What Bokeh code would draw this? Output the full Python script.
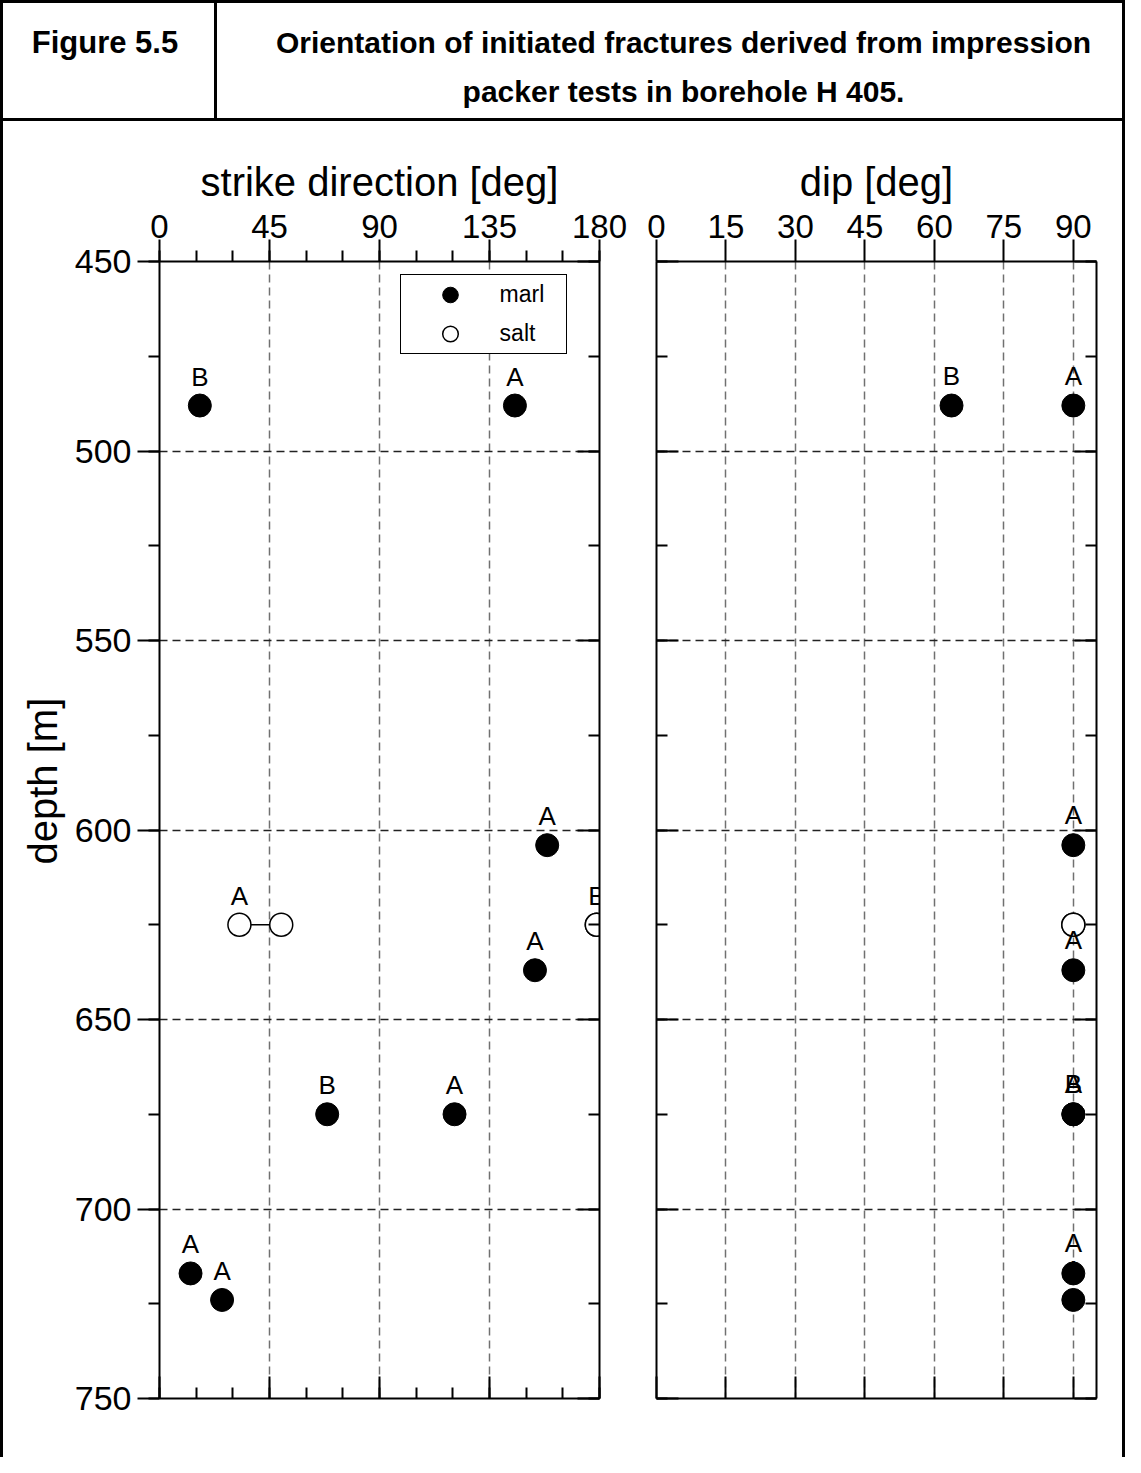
from bokeh.plotting import figure
from bokeh.models import (Range1d, LinearAxis, FixedTicker, Label, Legend,
                          LegendItem, Spacer, Title, LabelSet, ColumnDataSource)
from bokeh.layouts import row, column
from bokeh.core.properties import value
from bokeh.embed import file_html
from bokeh.resources import INLINE

# ---------------- data ----------------
marl_depth = [488, 488, 604, 637, 675, 675, 717, 724]
marl_strike = [16.5, 145.4, 158.6, 153.6, 68.6, 120.7, 12.7, 25.6]
marl_dip = [63.7, 90, 90, 90, 90, 90, 90, 90]
marl_label = ["B", "A", "A", "A", "B", "A", "A", "A"]

salt_depth = [625, 625]
salt_strike_min = [32.7, 178.9]
salt_strike_max = [49.8, 178.9]
salt_dip = [90, 90]
salt_label = ["A", "B"]

strike_ticks = [0, 45, 90, 135, 180]
strike_minor = [0, 15, 30, 45, 60, 75, 90, 105, 120, 135, 150, 165, 180]
strike_grid = [45, 90, 135]
dip_ticks = [0, 15, 30, 45, 60, 75, 90]
dip_grid = [15, 30, 45, 60, 75, 90]
depth_ticks = [450, 500, 550, 600, 650, 700, 750]
depth_minor = [450, 475, 500, 525, 550, 575, 600, 625, 650, 675, 700, 725, 750]
depth_grid = [500, 550, 600, 650, 700]

FONT = "Liberation Sans"
BLACK = "black"


def style_axis(ax, ticks, minor, tin, tout, mtin, mtout, labels=True, fsize="33px", standoff=2):
    ax.ticker = FixedTicker(ticks=ticks, minor_ticks=minor)
    ax.major_tick_in = tin
    ax.major_tick_out = tout
    ax.minor_tick_in = mtin
    ax.minor_tick_out = mtout
    ax.axis_line_width = 2
    ax.major_tick_line_width = 2
    ax.minor_tick_line_width = 2
    ax.axis_line_color = BLACK
    ax.major_tick_line_color = BLACK
    ax.minor_tick_line_color = BLACK
    if labels:
        ax.major_label_text_font = FONT
        ax.major_label_text_font_size = fsize
        ax.major_label_text_color = BLACK
        ax.major_label_standoff = standoff
    else:
        ax.major_label_overrides = {t: "" for t in ticks}
        ax.major_label_standoff = 0


def style_title(ax, text):
    ax.axis_label = text
    ax.axis_label_text_font = FONT
    ax.axis_label_text_font_size = "40px"
    ax.axis_label_text_font_style = "normal"
    ax.axis_label_text_color = BLACK
    ax.axis_label_standoff = 8


def style_grid(p, xgrid_ticks, ygrid_ticks):
    p.xgrid.ticker = FixedTicker(ticks=xgrid_ticks)
    p.ygrid.ticker = FixedTicker(ticks=ygrid_ticks)
    p.xgrid.grid_line_color = "#707070"
    p.xgrid.grid_line_dash = "8 5"
    p.xgrid.grid_line_width = 1.5
    p.ygrid.grid_line_color = "#222222"
    p.ygrid.grid_line_dash = "8 5"
    p.ygrid.grid_line_width = 1.5


# ---------------- header ----------------
HDR_H = 115
hdr_left = figure(width=211, height=HDR_H, x_range=(0, 1), y_range=(0, 1),
                  x_axis_type=None, y_axis_type=None, toolbar_location=None,
                  min_border=0, outline_line_color=None, output_backend="svg")
hdr_left.add_layout(Label(x=101.5, y=76, x_units="screen", y_units="screen",
                          text="Figure 5.5", text_align="center",
                          text_baseline="alphabetic", text_font=FONT,
                          text_font_size="31px", text_font_style="bold",
                          text_color=BLACK))

hdr_right = figure(width=905, height=HDR_H, x_range=(0, 1), y_range=(0, 1),
                   x_axis_type=None, y_axis_type=None, toolbar_location=None,
                   min_border=0, outline_line_color=None, output_backend="svg")
hdr_right.add_layout(Label(x=466, y=76, x_units="screen", y_units="screen",
                           text="Orientation of initiated fractures derived from impression",
                           text_align="center", text_baseline="alphabetic",
                           text_font=FONT, text_font_size="30px", text_font_style="bold",
                           text_color=BLACK))
hdr_right.add_layout(Label(x=466, y=27, x_units="screen", y_units="screen",
                           text="packer tests in borehole H 405.",
                           text_align="center", text_baseline="alphabetic",
                           text_font=FONT, text_font_size="30px", text_font_style="bold",
                           text_color=BLACK))

# ---------------- left plot: strike ----------------
p1 = figure(frame_width=440, frame_height=1137,
            x_range=Range1d(0, 180), y_range=Range1d(750, 450),
            x_axis_location="above", y_axis_location="left",
            min_border_left=156, min_border_right=28,
            min_border_top=140, min_border_bottom=59,
            toolbar_location=None, outline_line_color=None,
            output_backend="svg")
style_axis(p1.xaxis[0], strike_ticks, strike_minor, 0, 22, 0, 11, fsize="33px", standoff=2)
style_title(p1.xaxis[0], "strike direction [deg]")
style_axis(p1.yaxis[0], depth_ticks, depth_minor, 0, 22, 0, 11, fsize="34px", standoff=6)
ax_b1 = LinearAxis()
style_axis(ax_b1, strike_ticks, strike_minor, 22, 0, 11, 0, labels=False)
p1.add_layout(ax_b1, "below")
ax_r1 = LinearAxis()
style_axis(ax_r1, depth_ticks, depth_minor, 22, 0, 11, 0, labels=False)
p1.add_layout(ax_r1, "right")
style_grid(p1, strike_grid, depth_grid)

p1.add_layout(Title(text="depth [m]", align="left", offset=534, standoff=14,
                    text_font=FONT, text_font_size="40px", text_font_style="normal",
                    text_color=BLACK), "left")

p1.segment(x0=salt_strike_min, y0=salt_depth, x1=salt_strike_max, y1=salt_depth,
           line_color=BLACK, line_width=1.5)
r_salt = p1.scatter(x=salt_strike_min, y=salt_depth, size=23, marker="circle",
                    fill_color="white", line_color=BLACK, line_width=1.5)
p1.scatter(x=salt_strike_max, y=salt_depth, size=23, marker="circle",
           fill_color="white", line_color=BLACK, line_width=1.5)
r_marl = p1.scatter(x=marl_strike, y=marl_depth, size=23, marker="circle",
                    fill_color=BLACK, line_color=BLACK)

lab_src1 = ColumnDataSource(dict(x=marl_strike + salt_strike_min,
                                 y=marl_depth + salt_depth,
                                 t=marl_label + salt_label))
p1.add_layout(LabelSet(x="x", y="y", text="t", source=lab_src1, y_offset=20,
                       text_align="center", text_baseline="alphabetic",
                       text_font=value(FONT), text_font_size="26px",
                       text_color=BLACK))

legend = Legend(items=[LegendItem(label="marl", renderers=[r_marl]),
                       LegendItem(label="salt", renderers=[r_salt])],
                location=(240.6, 1043.7), orientation="vertical",
                padding=0, margin=0, spacing=0,
                glyph_width=98, glyph_height=39, label_standoff=1,
                label_width=66, label_height=20,
                label_text_font=FONT, label_text_font_size="23px",
                label_text_color=BLACK,
                border_line_color=BLACK, border_line_width=1.5, border_line_alpha=1.0,
                background_fill_color="white", background_fill_alpha=1.0)
p1.add_layout(legend)

# ---------------- right plot: dip ----------------
p2 = figure(frame_width=440, frame_height=1137,
            x_range=Range1d(0, 95), y_range=Range1d(750, 450),
            x_axis_location="above", y_axis_location="left",
            min_border_left=29, min_border_right=26,
            min_border_top=140, min_border_bottom=59,
            toolbar_location=None, outline_line_color=None,
            output_backend="svg")
style_axis(p2.xaxis[0], dip_ticks, [], 0, 22, 0, 0, fsize="33px", standoff=2)
style_title(p2.xaxis[0], "dip [deg]")
style_axis(p2.yaxis[0], depth_ticks, depth_minor, 22, 0, 11, 0, labels=False)
ax_b2 = LinearAxis()
style_axis(ax_b2, dip_ticks, [], 22, 0, 0, 0, labels=False)
p2.add_layout(ax_b2, "below")
ax_r2 = LinearAxis()
style_axis(ax_r2, depth_ticks, depth_minor, 22, 0, 11, 0, labels=False)
p2.add_layout(ax_r2, "right")
style_grid(p2, dip_grid, depth_grid)

p2.scatter(x=salt_dip, y=salt_depth, size=23, marker="circle",
           fill_color="white", line_color=BLACK, line_width=1.5)
p2.text(x=marl_dip, y=marl_depth, text=marl_label, y_offset=-30, text_align="center",
        text_baseline="alphabetic", text_font=value(FONT),
        text_font_size="26px", text_color=BLACK)
p2.scatter(x=marl_dip, y=marl_depth, size=23, marker="circle",
           fill_color=BLACK, line_color=BLACK)


# ---------------- frame lines & layout ----------------
def bar(w, h):
    return Spacer(width=w, height=h, styles={"background-color": "black"})


CONTENT_W = 1119
PLOT_H = 1336
content = column(
    row(hdr_left, bar(3, HDR_H), hdr_right, spacing=0),
    bar(CONTENT_W, 3),
    row(p1, p2, spacing=0),
    spacing=0,
)
page = column(
    bar(1125, 3),
    row(bar(3, HDR_H + 3 + PLOT_H), content, bar(3, HDR_H + 3 + PLOT_H), spacing=0),
    spacing=0,
)

open("out.html", "w").write(file_html(page, INLINE))
